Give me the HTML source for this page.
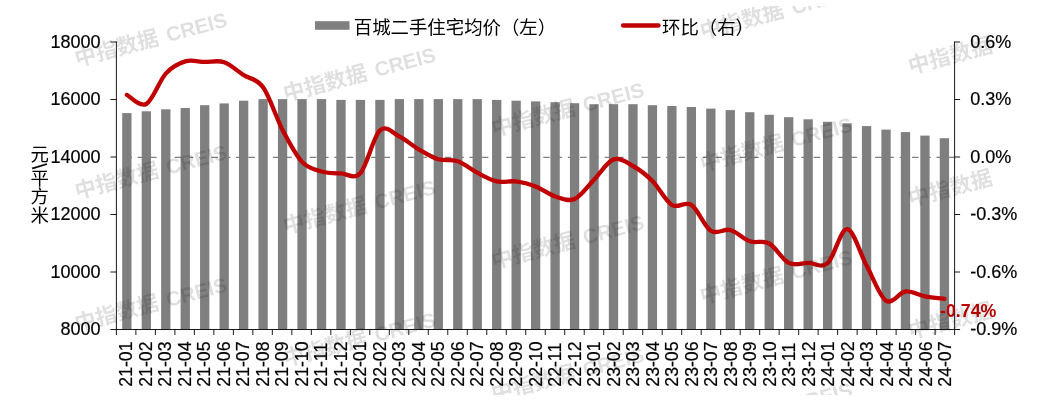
<!DOCTYPE html>
<html lang="zh"><head><meta charset="utf-8"><title>百城二手住宅均价</title>
<style>
html,body{margin:0;padding:0;background:#fff;}
body{width:1051px;height:410px;overflow:hidden;}
svg{display:block;}
.t{font-family:"Liberation Sans","Noto Sans CJK SC",sans-serif;font-size:18.3px;fill:#000;stroke:#000;stroke-width:0.2px;}
.c{font-family:"Liberation Sans","Noto Sans CJK SC",sans-serif;font-size:18.4px;fill:#000;}
.wm{font-family:"Liberation Sans","Noto Sans CJK SC",sans-serif;font-size:21.5px;font-weight:bold;fill:#000;fill-opacity:0.125;}
</style></head><body>
<svg width="1051" height="410" viewBox="0 0 1051 410">
<rect width="1051" height="410" fill="#fff"/>
<path d="M120 157.30H954.6" stroke="#808080" stroke-width="1.33" stroke-dasharray="6.6 5.69" stroke-dashoffset="6.92" fill="none"/>
<g fill="#7f7f7f">
<rect x="122.20" y="113.10" width="9.3" height="216.40"/>
<rect x="141.67" y="111.30" width="9.3" height="218.20"/>
<rect x="161.13" y="109.30" width="9.3" height="220.20"/>
<rect x="180.60" y="108.00" width="9.3" height="221.50"/>
<rect x="200.06" y="105.20" width="9.3" height="224.30"/>
<rect x="219.53" y="103.40" width="9.3" height="226.10"/>
<rect x="239.00" y="100.70" width="9.3" height="228.80"/>
<rect x="258.46" y="99.10" width="9.3" height="230.40"/>
<rect x="277.93" y="99.10" width="9.3" height="230.40"/>
<rect x="297.39" y="99.10" width="9.3" height="230.40"/>
<rect x="316.86" y="99.10" width="9.3" height="230.40"/>
<rect x="336.33" y="99.90" width="9.3" height="229.60"/>
<rect x="355.79" y="99.90" width="9.3" height="229.60"/>
<rect x="375.26" y="99.90" width="9.3" height="229.60"/>
<rect x="394.72" y="99.10" width="9.3" height="230.40"/>
<rect x="414.19" y="99.10" width="9.3" height="230.40"/>
<rect x="433.66" y="99.10" width="9.3" height="230.40"/>
<rect x="453.12" y="99.10" width="9.3" height="230.40"/>
<rect x="472.59" y="99.10" width="9.3" height="230.40"/>
<rect x="492.05" y="99.90" width="9.3" height="229.60"/>
<rect x="511.52" y="100.70" width="9.3" height="228.80"/>
<rect x="530.99" y="101.40" width="9.3" height="228.10"/>
<rect x="550.45" y="102.20" width="9.3" height="227.30"/>
<rect x="569.92" y="103.20" width="9.3" height="226.30"/>
<rect x="589.38" y="104.20" width="9.3" height="225.30"/>
<rect x="608.85" y="104.20" width="9.3" height="225.30"/>
<rect x="628.32" y="104.20" width="9.3" height="225.30"/>
<rect x="647.78" y="105.20" width="9.3" height="224.30"/>
<rect x="667.25" y="106.00" width="9.3" height="223.50"/>
<rect x="686.71" y="107.00" width="9.3" height="222.50"/>
<rect x="706.18" y="108.60" width="9.3" height="220.90"/>
<rect x="725.65" y="110.10" width="9.3" height="219.40"/>
<rect x="745.11" y="112.20" width="9.3" height="217.30"/>
<rect x="764.58" y="114.80" width="9.3" height="214.70"/>
<rect x="784.04" y="117.20" width="9.3" height="212.30"/>
<rect x="803.51" y="119.30" width="9.3" height="210.20"/>
<rect x="822.98" y="121.80" width="9.3" height="207.70"/>
<rect x="842.44" y="123.30" width="9.3" height="206.20"/>
<rect x="861.91" y="126.10" width="9.3" height="203.40"/>
<rect x="881.37" y="129.60" width="9.3" height="199.90"/>
<rect x="900.84" y="132.10" width="9.3" height="197.40"/>
<rect x="920.31" y="135.60" width="9.3" height="193.90"/>
<rect x="939.77" y="138.20" width="9.3" height="191.30"/>
</g>
<g stroke="#000" stroke-width="0.9" fill="none">
<path d="M116.4 41.4V335.0"/>
<path d="M954.6 41.4V335.0"/>
<path d="M110.4 329.5H960.1"/>
<path d="M110.4 42.00H116.4"/>
<path d="M954.6 42.00H960.1"/>
<path d="M110.4 99.50H116.4"/>
<path d="M954.6 99.50H960.1"/>
<path d="M110.4 157.00H116.4"/>
<path d="M954.6 157.00H960.1"/>
<path d="M110.4 214.50H116.4"/>
<path d="M954.6 214.50H960.1"/>
<path d="M110.4 272.00H116.4"/>
<path d="M954.6 272.00H960.1"/>
<path d="M135.89 329.5V335.0"/>
<path d="M155.39 329.5V335.0"/>
<path d="M174.88 329.5V335.0"/>
<path d="M194.37 329.5V335.0"/>
<path d="M213.87 329.5V335.0"/>
<path d="M233.36 329.5V335.0"/>
<path d="M252.85 329.5V335.0"/>
<path d="M272.34 329.5V335.0"/>
<path d="M291.84 329.5V335.0"/>
<path d="M311.33 329.5V335.0"/>
<path d="M330.82 329.5V335.0"/>
<path d="M350.32 329.5V335.0"/>
<path d="M369.81 329.5V335.0"/>
<path d="M389.30 329.5V335.0"/>
<path d="M408.80 329.5V335.0"/>
<path d="M428.29 329.5V335.0"/>
<path d="M447.78 329.5V335.0"/>
<path d="M467.27 329.5V335.0"/>
<path d="M486.77 329.5V335.0"/>
<path d="M506.26 329.5V335.0"/>
<path d="M525.75 329.5V335.0"/>
<path d="M545.25 329.5V335.0"/>
<path d="M564.74 329.5V335.0"/>
<path d="M584.23 329.5V335.0"/>
<path d="M603.73 329.5V335.0"/>
<path d="M623.22 329.5V335.0"/>
<path d="M642.71 329.5V335.0"/>
<path d="M662.20 329.5V335.0"/>
<path d="M681.70 329.5V335.0"/>
<path d="M701.19 329.5V335.0"/>
<path d="M720.68 329.5V335.0"/>
<path d="M740.18 329.5V335.0"/>
<path d="M759.67 329.5V335.0"/>
<path d="M779.16 329.5V335.0"/>
<path d="M798.66 329.5V335.0"/>
<path d="M818.15 329.5V335.0"/>
<path d="M837.64 329.5V335.0"/>
<path d="M857.13 329.5V335.0"/>
<path d="M876.63 329.5V335.0"/>
<path d="M896.12 329.5V335.0"/>
<path d="M915.61 329.5V335.0"/>
<path d="M935.11 329.5V335.0"/>
</g>
<path d="M126.85 94.90C130.09 96.42 139.83 107.55 146.32 104.00C152.80 100.45 159.29 80.70 165.78 73.60C172.27 66.50 178.76 63.35 185.25 61.40C191.74 59.45 198.23 61.77 204.71 61.90C211.20 62.03 217.69 60.00 224.18 62.20C230.67 64.40 237.16 70.92 243.65 75.10C250.13 79.28 256.62 78.15 263.11 87.30C269.60 96.45 276.09 117.57 282.58 130.00C289.07 142.43 295.56 154.98 302.04 161.90C308.53 168.82 315.02 169.58 321.51 171.50C328.00 173.42 334.49 173.15 340.98 173.40C347.46 173.65 353.95 180.17 360.44 173.00C366.93 165.83 373.42 136.48 379.91 130.40C386.40 124.32 392.89 133.33 399.37 136.50C405.86 139.67 412.35 145.60 418.84 149.40C425.33 153.20 431.82 157.32 438.31 159.30C444.79 161.28 451.28 159.07 457.77 161.30C464.26 163.53 470.75 169.35 477.24 172.70C483.73 176.05 490.22 179.95 496.70 181.40C503.19 182.85 509.68 180.57 516.17 181.40C522.66 182.23 529.15 183.88 535.64 186.40C542.12 188.92 548.61 194.40 555.10 196.50C561.59 198.60 568.08 201.80 574.57 199.00C581.06 196.20 587.55 186.30 594.03 179.70C600.52 173.10 607.01 161.68 613.50 159.40C619.99 157.12 626.48 162.40 632.97 166.00C639.45 169.60 645.94 174.50 652.43 181.00C658.92 187.50 665.41 201.02 671.90 205.00C678.39 208.98 684.88 200.60 691.36 204.90C697.85 209.20 704.34 226.62 710.83 230.80C717.32 234.98 723.81 228.25 730.30 230.00C736.78 231.75 743.27 239.05 749.76 241.30C756.25 243.55 762.74 239.90 769.23 243.50C775.72 247.10 782.21 259.67 788.69 262.90C795.18 266.13 801.67 262.85 808.16 262.90C814.65 262.95 821.14 268.82 827.63 263.20C834.11 257.58 840.60 228.82 847.09 229.20C853.58 229.58 860.07 253.58 866.56 265.50C873.05 277.42 879.54 296.37 886.02 300.70C892.51 305.03 899.00 292.22 905.49 291.50C911.98 290.78 918.47 295.18 924.96 296.40C931.44 297.62 941.18 298.40 944.42 298.80" stroke="#c00000" stroke-width="4.3" stroke-linecap="round" stroke-linejoin="round" fill="none"/>
<text class="t" transform="translate(100.6 47.90) scale(0.97 1.03)" style="font-size:18.6px" text-anchor="end">18000</text>
<text class="t" transform="translate(100.6 105.40) scale(0.97 1.03)" style="font-size:18.6px" text-anchor="end">16000</text>
<text class="t" transform="translate(100.6 162.90) scale(0.97 1.03)" style="font-size:18.6px" text-anchor="end">14000</text>
<text class="t" transform="translate(100.6 220.40) scale(0.97 1.03)" style="font-size:18.6px" text-anchor="end">12000</text>
<text class="t" transform="translate(100.6 277.90) scale(0.97 1.03)" style="font-size:18.6px" text-anchor="end">10000</text>
<text class="t" transform="translate(100.6 335.40) scale(0.97 1.03)" style="font-size:18.6px" text-anchor="end">8000</text>
<text class="t" transform="translate(970.2 47.90) scale(0.97 1.03)" style="font-size:18.6px">0.6%</text>
<text class="t" transform="translate(970.2 105.40) scale(0.97 1.03)" style="font-size:18.6px">0.3%</text>
<text class="t" transform="translate(970.2 162.90) scale(0.97 1.03)" style="font-size:18.6px">0.0%</text>
<text class="t" transform="translate(970.2 220.40) scale(0.97 1.03)" style="font-size:18.6px">-0.3%</text>
<text class="t" transform="translate(970.2 277.90) scale(0.97 1.03)" style="font-size:18.6px">-0.6%</text>
<text class="t" transform="translate(970.2 335.40) scale(0.97 1.03)" style="font-size:18.6px">-0.9%</text>
<text class="t" style="font-size:17.7px" transform="translate(132.45 386.7) rotate(-90)">21-01</text>
<text class="t" style="font-size:17.7px" transform="translate(151.94 386.7) rotate(-90)">21-02</text>
<text class="t" style="font-size:17.7px" transform="translate(171.43 386.7) rotate(-90)">21-03</text>
<text class="t" style="font-size:17.7px" transform="translate(190.93 386.7) rotate(-90)">21-04</text>
<text class="t" style="font-size:17.7px" transform="translate(210.42 386.7) rotate(-90)">21-05</text>
<text class="t" style="font-size:17.7px" transform="translate(229.91 386.7) rotate(-90)">21-06</text>
<text class="t" style="font-size:17.7px" transform="translate(249.40 386.7) rotate(-90)">21-07</text>
<text class="t" style="font-size:17.7px" transform="translate(268.90 386.7) rotate(-90)">21-08</text>
<text class="t" style="font-size:17.7px" transform="translate(288.39 386.7) rotate(-90)">21-09</text>
<text class="t" style="font-size:17.7px" transform="translate(307.88 386.7) rotate(-90)">21-10</text>
<text class="t" style="font-size:17.7px" transform="translate(327.38 386.7) rotate(-90)">21-11</text>
<text class="t" style="font-size:17.7px" transform="translate(346.87 386.7) rotate(-90)">21-12</text>
<text class="t" style="font-size:17.7px" transform="translate(366.36 386.7) rotate(-90)">22-01</text>
<text class="t" style="font-size:17.7px" transform="translate(385.86 386.7) rotate(-90)">22-02</text>
<text class="t" style="font-size:17.7px" transform="translate(405.35 386.7) rotate(-90)">22-03</text>
<text class="t" style="font-size:17.7px" transform="translate(424.84 386.7) rotate(-90)">22-04</text>
<text class="t" style="font-size:17.7px" transform="translate(444.33 386.7) rotate(-90)">22-05</text>
<text class="t" style="font-size:17.7px" transform="translate(463.83 386.7) rotate(-90)">22-06</text>
<text class="t" style="font-size:17.7px" transform="translate(483.32 386.7) rotate(-90)">22-07</text>
<text class="t" style="font-size:17.7px" transform="translate(502.81 386.7) rotate(-90)">22-08</text>
<text class="t" style="font-size:17.7px" transform="translate(522.31 386.7) rotate(-90)">22-09</text>
<text class="t" style="font-size:17.7px" transform="translate(541.80 386.7) rotate(-90)">22-10</text>
<text class="t" style="font-size:17.7px" transform="translate(561.29 386.7) rotate(-90)">22-11</text>
<text class="t" style="font-size:17.7px" transform="translate(580.79 386.7) rotate(-90)">22-12</text>
<text class="t" style="font-size:17.7px" transform="translate(600.28 386.7) rotate(-90)">23-01</text>
<text class="t" style="font-size:17.7px" transform="translate(619.77 386.7) rotate(-90)">23-02</text>
<text class="t" style="font-size:17.7px" transform="translate(639.27 386.7) rotate(-90)">23-03</text>
<text class="t" style="font-size:17.7px" transform="translate(658.76 386.7) rotate(-90)">23-04</text>
<text class="t" style="font-size:17.7px" transform="translate(678.25 386.7) rotate(-90)">23-05</text>
<text class="t" style="font-size:17.7px" transform="translate(697.74 386.7) rotate(-90)">23-06</text>
<text class="t" style="font-size:17.7px" transform="translate(717.24 386.7) rotate(-90)">23-07</text>
<text class="t" style="font-size:17.7px" transform="translate(736.73 386.7) rotate(-90)">23-08</text>
<text class="t" style="font-size:17.7px" transform="translate(756.22 386.7) rotate(-90)">23-09</text>
<text class="t" style="font-size:17.7px" transform="translate(775.72 386.7) rotate(-90)">23-10</text>
<text class="t" style="font-size:17.7px" transform="translate(795.21 386.7) rotate(-90)">23-11</text>
<text class="t" style="font-size:17.7px" transform="translate(814.70 386.7) rotate(-90)">23-12</text>
<text class="t" style="font-size:17.7px" transform="translate(834.20 386.7) rotate(-90)">24-01</text>
<text class="t" style="font-size:17.7px" transform="translate(853.69 386.7) rotate(-90)">24-02</text>
<text class="t" style="font-size:17.7px" transform="translate(873.18 386.7) rotate(-90)">24-03</text>
<text class="t" style="font-size:17.7px" transform="translate(892.67 386.7) rotate(-90)">24-04</text>
<text class="t" style="font-size:17.7px" transform="translate(912.17 386.7) rotate(-90)">24-05</text>
<text class="t" style="font-size:17.7px" transform="translate(931.66 386.7) rotate(-90)">24-06</text>
<text class="t" style="font-size:17.7px" transform="translate(951.15 386.7) rotate(-90)">24-07</text>
<text class="c" x="30.6" y="161">元</text>
<text class="t" style="font-size:20px" transform="translate(39.5 166.3) rotate(58)" text-anchor="middle" dy="7">/</text>
<text class="c" x="30.6" y="185">平</text>
<text class="c" x="30.6" y="203.3">方</text>
<text class="c" x="30.6" y="221.8">米</text>
<rect x="315" y="21.2" width="34.5" height="8.6" fill="#7f7f7f"/>
<text class="c" x="353.8" y="33.9">百城二手住宅均价（左）</text>
<path d="M623 25.5H658.5" stroke="#c00000" stroke-width="4.3" stroke-linecap="round"/>
<text class="c" x="662" y="33.9">环比（右）</text>
<text class="t" x="940" y="316.7" style="font-weight:bold;fill:#c00000;stroke:none;font-size:17.8px">-0.74%</text>
<defs><clipPath id="wc"><rect x="0" y="6" width="993" height="389"/></clipPath></defs>
<g clip-path="url(#wc)">
<text class="wm" transform="translate(150.8 39.0) rotate(-15)" text-anchor="middle" dy="7.5">中指数据 <tspan dx="2.5" style="font-size:20.4px">CREIS</tspan></text>
<text class="wm" transform="translate(150.8 171.5) rotate(-15)" text-anchor="middle" dy="7.5">中指数据 <tspan dx="2.5" style="font-size:20.4px">CREIS</tspan></text>
<text class="wm" transform="translate(150.8 304.0) rotate(-15)" text-anchor="middle" dy="7.5">中指数据 <tspan dx="2.5" style="font-size:20.4px">CREIS</tspan></text>
<text class="wm" transform="translate(150.8 436.5) rotate(-15)" text-anchor="middle" dy="7.5">中指数据 <tspan dx="2.5" style="font-size:20.4px">CREIS</tspan></text>
<text class="wm" transform="translate(359.2 74.0) rotate(-15)" text-anchor="middle" dy="7.5">中指数据 <tspan dx="2.5" style="font-size:20.4px">CREIS</tspan></text>
<text class="wm" transform="translate(359.2 206.5) rotate(-15)" text-anchor="middle" dy="7.5">中指数据 <tspan dx="2.5" style="font-size:20.4px">CREIS</tspan></text>
<text class="wm" transform="translate(359.2 339.0) rotate(-15)" text-anchor="middle" dy="7.5">中指数据 <tspan dx="2.5" style="font-size:20.4px">CREIS</tspan></text>
<text class="wm" transform="translate(567.6 -23.5) rotate(-15)" text-anchor="middle" dy="7.5">中指数据 <tspan dx="2.5" style="font-size:20.4px">CREIS</tspan></text>
<text class="wm" transform="translate(567.6 109.0) rotate(-15)" text-anchor="middle" dy="7.5">中指数据 <tspan dx="2.5" style="font-size:20.4px">CREIS</tspan></text>
<text class="wm" transform="translate(567.6 241.5) rotate(-15)" text-anchor="middle" dy="7.5">中指数据 <tspan dx="2.5" style="font-size:20.4px">CREIS</tspan></text>
<text class="wm" transform="translate(567.6 374.0) rotate(-15)" text-anchor="middle" dy="7.5">中指数据 <tspan dx="2.5" style="font-size:20.4px">CREIS</tspan></text>
<text class="wm" transform="translate(776.0 11.5) rotate(-15)" text-anchor="middle" dy="7.5">中指数据 <tspan dx="2.5" style="font-size:20.4px">CREIS</tspan></text>
<text class="wm" transform="translate(776.0 144.0) rotate(-15)" text-anchor="middle" dy="7.5">中指数据 <tspan dx="2.5" style="font-size:20.4px">CREIS</tspan></text>
<text class="wm" transform="translate(776.0 276.5) rotate(-15)" text-anchor="middle" dy="7.5">中指数据 <tspan dx="2.5" style="font-size:20.4px">CREIS</tspan></text>
<text class="wm" transform="translate(776.0 409.0) rotate(-15)" text-anchor="middle" dy="7.5">中指数据 <tspan dx="2.5" style="font-size:20.4px">CREIS</tspan></text>
<text class="wm" transform="translate(984.4 46.5) rotate(-15)" text-anchor="middle" dy="7.5">中指数据 <tspan dx="2.5" style="font-size:20.4px">CREIS</tspan></text>
<text class="wm" transform="translate(984.4 179.0) rotate(-15)" text-anchor="middle" dy="7.5">中指数据 <tspan dx="2.5" style="font-size:20.4px">CREIS</tspan></text>
<text class="wm" transform="translate(984.4 311.5) rotate(-15)" text-anchor="middle" dy="7.5">中指数据 <tspan dx="2.5" style="font-size:20.4px">CREIS</tspan></text>
</g>
</svg></body></html>
